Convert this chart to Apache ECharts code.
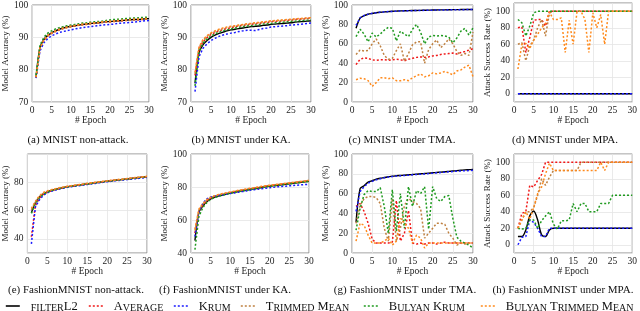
<!DOCTYPE html>
<html><head><meta charset="utf-8">
<script src="https://cdn.jsdelivr.net/npm/echarts@6/dist/echarts.min.js"></script>
<style>html,body{margin:0;padding:0;background:#fff}#c{width:640px;height:311px}</style>
</head><body><div id="c"></div>
<script>
// ---------------- DATA ----------------
const epochs = [1,2,3,4,5,6,7,8,9,10,11,12,13,14,15,16,17,18,19,20,21,22,23,24,25,26,27,28,29,30];
const methodNames = ['filterL2','Average','Krum','Trimmed Mean','Bulyan Krum','Bulyan Trimmed Mean'];
const panelCaptions = ['(a) MNIST non-attack.','(b) MNIST under KA.','(c) MNIST under TMA.','(d) MNIST under MPA.',
  '(e) FashionMNIST non-attack.','(f) FashionMNIST under KA.','(g) FashionMNIST under TMA.','(h) FashionMNIST under MPA.'];
const yAxisNames = ['Model Accuracy (%)','Model Accuracy (%)','Model Accuracy (%)','Attack Success Rate (%)',
  'Model Accuracy (%)','Model Accuracy (%)','Model Accuracy (%)','Attack Success Rate (%)'];
const xAxisName = '# Epoch';

// (a) MNIST non-attack
const a_filter = [77.8,86.8,89.3,90.6,91.4,92.0,92.5,92.9,93.2,93.4,93.6,93.8,94.0,94.1,94.3,94.4,94.5,94.7,94.8,94.9,95.0,95.1,95.2,95.3,95.4,95.5,95.5,95.6,95.7,95.8];
const a_avg    = [77.5,86.5,89.0,90.4,91.2,91.8,92.3,92.7,93.0,93.3,93.5,93.7,93.9,94.0,94.2,94.3,94.5,94.6,94.7,94.8,94.9,95.0,95.1,95.2,95.3,95.4,95.4,95.5,95.6,95.7];
const a_krum   = [77.4,85.8,88.3,89.6,90.5,91.0,91.5,91.8,92.1,92.3,92.6,92.8,93.0,93.2,93.3,93.5,93.6,93.8,93.9,94.0,94.1,94.3,94.4,94.5,94.6,94.7,94.8,95.0,95.1,95.2];
const a_tm     = [77.6,86.6,89.1,90.5,91.3,91.9,92.4,92.8,93.1,93.4,93.6,93.8,93.9,94.1,94.2,94.4,94.5,94.6,94.8,94.9,95.0,95.1,95.2,95.3,95.3,95.4,95.5,95.6,95.7,95.7];
const a_bk     = [78.3,87.5,90.0,91.3,92.0,92.6,93.0,93.3,93.6,93.8,94.0,94.2,94.4,94.5,94.7,94.8,94.9,95.0,95.2,95.4,95.5,95.6,95.7,95.8,95.9,96.0,96.0,96.1,96.2,96.3];
const a_btm    = [77.7,86.7,89.2,90.6,91.4,92.0,92.5,92.9,93.2,93.5,93.7,93.9,94.1,94.2,94.4,94.5,94.6,94.8,94.9,95.0,95.1,95.2,95.3,95.4,95.5,95.6,95.7,95.7,95.8,95.9];
// (b) MNIST under KA
const b_filter = [75.8,85.2,87.7,89.0,90.0,90.7,91.2,91.6,92.0,92.3,92.5,92.7,92.9,93.1,93.3,93.4,93.5,93.7,93.8,94.0,94.1,94.2,94.3,94.4,94.5,94.7,94.8,94.9,95.0,95.1];
const b_avg    = [78.2,86.4,88.6,89.9,90.9,91.5,92.0,92.4,92.7,93.0,93.3,93.5,93.7,93.9,94.0,94.2,94.3,94.5,94.6,94.8,94.9,95.0,95.1,95.2,95.3,95.5,95.6,95.7,95.8,95.9];
const b_krum   = [73.2,84.0,86.6,88.0,89.0,89.7,90.3,90.7,91.0,91.3,91.5,91.8,92.0,92.2,92.2,92.1,92.4,92.7,92.9,93.2,93.3,93.4,93.5,93.6,93.8,93.9,94.0,94.1,94.3,94.4];
const b_tm     = [78.8,86.8,89.0,90.3,91.2,91.8,92.3,92.7,93.0,93.3,93.5,93.7,93.9,94.1,94.2,94.4,94.5,94.7,94.8,95.0,95.1,95.2,95.3,95.4,95.5,95.6,95.7,95.8,95.9,96.0];
const b_bk     = [75.0,85.6,88.2,89.5,90.4,91.1,91.6,92.0,92.3,92.6,92.9,93.1,93.3,93.5,93.6,93.8,93.9,94.1,94.2,94.3,94.5,94.6,94.7,94.8,94.9,95.0,95.1,95.2,95.3,95.4];
const b_btm    = [79.2,87.0,89.3,90.5,91.4,92.0,92.5,92.9,93.2,93.4,93.6,93.8,94.0,94.2,94.3,94.5,94.6,94.8,94.9,95.1,95.2,95.3,95.4,95.5,95.6,95.7,95.8,95.9,96.0,96.1];
// (c) MNIST under TMA
const c_filter = [76.0,86.5,89.0,90.5,91.3,92.0,92.5,92.9,93.2,93.5,93.7,93.9,94.0,94.2,94.3,94.4,94.5,94.6,94.7,94.8,94.9,95.0,95.0,95.1,95.2,95.2,95.3,95.3,95.4,95.4];
const c_avg    = [38.5,44.0,45.5,45.0,43.5,43.0,43.5,43.5,43.0,43.5,44.0,43.5,42.5,44.0,45.0,46.0,46.5,46.0,46.5,47.5,48.0,49.0,49.5,50.0,50.5,49.5,51.0,52.0,53.5,55.0];
const c_krum   = [79.0,86.8,89.2,90.6,91.4,92.0,92.5,92.9,93.2,93.4,93.6,93.8,94.0,94.1,94.2,94.3,94.4,94.5,94.6,94.7,94.8,94.9,94.9,95.0,95.1,95.1,95.2,95.2,95.3,95.3];
const c_tm     = [49,53.5,52.5,53,60,65,58,48,44,45,53,60,42,50,59,62,62,40,54,60,64,56,60,65,60,52,48,50,48,72];
const c_bk     = [67.5,75,70,62,71,67,70,74,77,76,63,73,70,67.5,75,80,72,60,67,68.5,68,68.5,68,67,61,66,73,76,69,76.5];
const c_btm    = [23,24.5,24,22,16,20,25,25,24,25,22,22,23,22,25,27,29,26,27,30,29,30,31.5,30,28,32,33,36,38,26];
// (d) MNIST under MPA
const d_filter = [0,0,0,0,0,0,0,0,0,0,0,0,0,0,0,0,0,0,0,0,0,0,0,0,0,0,0,0,0,0];
const d_avg    = [80,81,50,68,89,90,90,82,100,100,100,100,100,100,100,100,100,100,100,100,100,100,100,100,100,100,100,100,100,100];
const d_krum   = [0,0,0,0,0,0,0,0,0,0,0,0,0,0,0,0,0,0,0,0,0,0,0,0,0,0,0,0,0,0];
const d_tm     = [60,62,40,58,65,80,90,70,98,100,100,100,100,100,100,100,100,100,100,100,100,100,100,100,100,100,100,100,100,100];
const d_bk     = [90,86,70,82,98,100,100,100,100,100,100,100,100,100,100,100,100,100,100,100,100,100,100,100,100,100,100,100,100,100];
const d_btm    = [30,60,61,55,65,72,80,85,99,90,90,92,50,89,60,100,100,90,50,98,80,96,60,100,100,100,100,100,100,100];
// (e) FashionMNIST non-attack
const e_filter = [58.5,65.5,69.5,71.8,73.2,74.2,75.0,75.6,76.2,76.8,77.2,77.6,78.0,78.4,78.8,79.2,79.6,80.0,80.4,80.7,81.0,81.4,81.7,82.0,82.3,82.7,83.0,83.3,83.6,83.9];
const e_avg    = [41.5,63.5,68.8,71.5,73.0,74.0,74.9,75.6,76.2,76.8,77.2,77.7,78.1,78.5,78.9,79.3,79.7,80.1,80.4,80.8,81.1,81.5,81.8,82.1,82.4,82.8,83.1,83.4,83.7,84.0];
const e_krum   = [36.5,62.5,67.5,70.8,72.5,73.6,74.5,75.2,75.8,76.4,76.8,77.2,77.6,78.0,78.4,78.8,79.2,79.6,80.0,80.3,80.7,81.0,81.3,81.6,81.9,82.2,82.5,82.8,83.1,83.4];
const e_tm     = [60.5,66.0,70.0,72.2,73.5,74.4,75.2,75.9,76.5,77.0,77.5,77.9,78.3,78.7,79.1,79.5,79.9,80.3,80.6,80.9,81.3,81.6,81.9,82.2,82.6,82.9,83.2,83.5,83.8,84.1];
const e_bk     = [58.0,65.0,69.0,71.5,73.0,74.1,74.9,75.6,76.2,76.7,77.2,77.6,78.0,78.4,78.8,79.2,79.6,80.0,80.4,80.7,81.0,81.4,81.7,82.0,82.3,82.6,83.0,83.3,83.6,83.9];
const e_btm    = [61.5,66.5,70.5,72.8,74.0,74.8,75.5,76.1,76.7,77.2,77.6,78.0,78.4,78.8,79.2,79.6,80.0,80.4,80.7,81.0,81.4,81.7,82.0,82.3,82.6,83.0,83.3,83.6,83.9,84.2];
// (f) FashionMNIST under KA
const f_filter = [47.5,64.5,68.5,71.0,72.8,73.8,74.5,75.1,75.7,76.3,76.8,77.3,77.7,78.1,78.5,78.9,79.3,79.7,80.1,80.5,80.8,81.1,81.4,81.7,82.0,82.3,82.6,82.9,83.2,83.5];
const f_avg    = [52.0,65.5,69.0,71.5,73.2,74.2,74.9,75.5,76.1,76.6,77.1,77.6,78.0,78.4,78.8,79.2,79.6,80.0,80.4,80.8,81.1,81.4,81.7,82.0,82.3,82.6,82.9,83.2,83.5,83.8];
const f_krum   = [50.0,65.0,70.0,72.8,74.0,74.5,74.8,75.2,75.6,76.0,76.4,76.8,77.2,77.6,78.0,78.3,78.6,78.9,79.2,79.5,79.8,80.1,80.3,80.5,80.7,80.9,81.1,81.3,81.5,81.6];
const f_tm     = [53.5,66.0,69.5,72.0,73.5,74.5,75.2,75.8,76.3,76.8,77.3,77.8,78.2,78.6,79.0,79.4,79.8,80.2,80.6,80.9,81.2,81.5,81.8,82.1,82.4,82.7,83.0,83.3,83.6,83.9];
const f_bk     = [42.0,62.0,67.5,70.5,72.5,73.6,74.3,75.0,75.6,76.2,76.7,77.2,77.6,78.0,78.4,78.8,79.2,79.6,80.0,80.4,80.7,81.0,81.3,81.6,81.9,82.2,82.5,82.8,83.1,83.4];
const f_btm    = [54.5,66.5,70.0,72.3,73.8,74.7,75.4,76.0,76.5,77.0,77.5,78.0,78.4,78.8,79.2,79.6,80.0,80.4,80.7,81.0,81.3,81.6,81.9,82.2,82.5,82.8,83.1,83.4,83.7,84.0];
// (g) FashionMNIST under TMA
const g_filter = [31,65,68,71.5,73,74.5,75.5,76.2,77,77.5,78,78.3,78.6,79,79.3,79.6,80,80.3,80.6,81,81.3,81.7,82,82.4,82.8,83.2,83.6,84,84.2,84.5];
const g_avg    = [47,50,42,30,14,10,10,10,10,11,53,12,20,43,10,9,10,9,10,10,9,10,11,10,10,10,10,10,10,10];
const g_krum   = [42,62,67,70.5,72.5,74,75,76,76.7,77.2,77.7,78,78.3,78.6,79,79.3,79.6,79.9,80.2,80.6,81,81.3,81.6,82,82.3,82.6,82.9,83.1,83.3,83.5];
const g_tm     = [30,48,55,57,57,56,50,25,12,55,12,25,48,55,52,50,45,15,20,25,30,30,29,20,15,8,10,9,10,10];
const g_bk     = [23,45,59,63,62,62,66,47,20,64,22,60,25,67,47,63,60,67,24,67,55,52,57,58,35,16,12,10,8,5];
const g_btm    = [12,30,28,18,10,10,10,12,15,8,12,35,30,25,10,18,15,5,10,10,10,10,10,10,10,10,10,10,10,10];
// (h) FashionMNIST under MPA
const h_filter = [10,10,18,35,41,30,12,10,18,20,20,20,20,20,20,20,20,20,20,20,20,20,20,20,20,20,20,20,20,20];
const h_avg    = [20,38,40,72,70,78,85,100,100,100,100,100,100,100,100,100,100,100,100,100,100,100,100,100,100,100,100,100,100,100];
const h_krum   = [0,9,10,30,27,20,10,10,20,20,20,20,20,20,20,20,20,20,20,20,20,20,20,20,20,20,20,20,20,20];
const h_tm     = [20,30,40,40,45,60,80,72,82,90,90,90,90,90,90,90,100,100,100,100,100,100,100,100,100,100,100,100,100,100];
const h_bk     = [20,19,20,30,30,20,29,35,40,25,19,29,29,30,50,40,50,50,40,40,40,50,50,50,60,60,60,60,60,60];
const h_btm    = [20,30,40,31,45,62,70,86,99,90,90,90,90,90,90,90,90,90,90,90,90,100,90,100,100,100,100,100,100,100];

const panelData = [
  [a_filter,a_avg,a_krum,a_tm,a_bk,a_btm],
  [b_filter,b_avg,b_krum,b_tm,b_bk,b_btm],
  [c_filter,c_avg,c_krum,c_tm,c_bk,c_btm],
  [d_filter,d_avg,d_krum,d_tm,d_bk,d_btm],
  [e_filter,e_avg,e_krum,e_tm,e_bk,e_btm],
  [f_filter,f_avg,f_krum,f_tm,f_bk,f_btm],
  [g_filter,g_avg,g_krum,g_tm,g_bk,g_btm],
  [h_filter,h_avg,h_krum,h_tm,h_bk,h_btm]
];

// ---------------- STYLE / LAYOUT ----------------
const FONT = 'Liberation Serif';
const colors = ['#000000','#f01818','#1a1aff','#bf8040','#1f9a1f','#ff8a1c'];
const grids = [
  {left:29,top:3,width:120,height:99},{left:191,top:3,width:120,height:99},
  {left:352,top:3,width:121,height:99},{left:514,top:3,width:120,height:99},
  {left:26,top:154,width:121,height:99},{left:191,top:154,width:118,height:99},
  {left:352,top:154,width:121,height:99},{left:514,top:154,width:120,height:99}
];
const yRange = [
  {min:70,max:100,interval:10},{min:70,max:100,interval:10},
  {min:0,max:100,interval:20},{min:-10,max:110,splitNumber:6,edge:true},
  {min:30,max:100,splitNumber:4,edge:true},{min:40,max:100,interval:20},
  {min:0,max:100,interval:20},{min:-10,max:110,splitNumber:6,edge:true}
];
const yNameGap = [16,19,17,19,14,19,17,20];
const capPos = [[78,140],[241,140],[402,140],[565,140],[76,290],[225,290],[405,290],[563,290]];
const legendX = [5,88,173,240,363,480];
const smallCaps = {
  'filterL2':'{g| }{s|FILTER}{b|L2}',
  'Average':'{g| }{b|A}{s|VERAGE}',
  'Krum':'{g| }{b|K}{s|RUM}',
  'Trimmed Mean':'{g| }{b|T}{s|RIMMED} {b|M}{s|EAN}',
  'Bulyan Krum':'{g| }{b|B}{s|ULYAN} {b|K}{s|RUM}',
  'Bulyan Trimmed Mean':'{g| }{b|B}{s|ULYAN} {b|T}{s|RIMMED} {b|M}{s|EAN}'
};

const txt = {fontFamily:FONT,fontSize:9.5,color:'#222'};
const splitLine = {show:true,lineStyle:{color:'#e4e4e4',width:0.8}};

const option = {
  animation:false,
  backgroundColor:'#fff',
  grid: grids.map(g=>Object.assign({show:true,borderColor:'#8a8a8a',borderWidth:1,backgroundColor:'transparent'},g)),
  xAxis: grids.map((g,i)=>({
    gridIndex:i,type:'value',min:0,max:30,interval:5,
    axisLine:{show:false},axisTick:{show:false},splitLine:splitLine,
    axisLabel:Object.assign({margin:3},txt),
    name:xAxisName,nameLocation:'middle',nameGap:11,nameTextStyle:Object.assign({},txt)
  })),
  yAxis: grids.map((g,i)=>{
    const r = yRange[i];
    const ax = {gridIndex:i,type:'value',min:r.min,max:r.max,
      axisLine:{show:false},axisTick:{show:false},splitLine:splitLine,
      axisLabel:Object.assign({margin:4},txt),
      name:yAxisNames[i],nameLocation:'middle',nameGap:yNameGap[i],nameTextStyle:Object.assign({},txt,{fontSize:9})};
    if (r.interval) ax.interval = r.interval; else ax.splitNumber = r.splitNumber;
    if (r.edge){ ax.axisLabel.showMinLabel=false; ax.axisLabel.showMaxLabel=false; }
    return ax;
  }),
  legend: methodNames.map((n,k)=>({
    data:[n],left:legendX[k],top:300,padding:0,itemGap:0,itemWidth:14,itemHeight:12,
    formatter:name=>smallCaps[name],
    itemStyle:{opacity:0},
    lineStyle:{width:1.6},
    textStyle:{color:'#111',fontFamily:FONT,rich:{
      g:{width:6,fontSize:10,fontFamily:FONT},
      b:{fontSize:12.5,fontFamily:FONT,color:'#111',lineHeight:14,verticalAlign:'bottom'},
      s:{fontSize:10,fontFamily:FONT,color:'#111',lineHeight:14,verticalAlign:'bottom'}
    }}
  })),
  graphic: panelCaptions.map((t,i)=>({
    type:'text',x:capPos[i][0],y:capPos[i][1],silent:true,
    style:{text:t,fill:'#111',fontFamily:FONT,fontSize:11,align:'center',verticalAlign:'middle',textAlign:'center',textVerticalAlign:'middle'}
  })),
  series: []
};

panelData.forEach((vals,p)=>{
  vals.forEach((arr,m)=>{
    option.series.push({
      type:'line',name:methodNames[m],xAxisIndex:p,yAxisIndex:p,
      data:epochs.map((e,i)=>[e,arr[i]]),
      symbol:'none',showSymbol:false,smooth:m===0?0.3:false,
      color:colors[m],
      lineStyle:{color:colors[m],width:m===0?1.4:1.5,type:m===0?'solid':[2,2]},
      z:2+m
    });
  });
});

const chart = echarts.init(document.getElementById('c'),null,{renderer:'canvas'});
chart.setOption(option);
</script></body></html>
